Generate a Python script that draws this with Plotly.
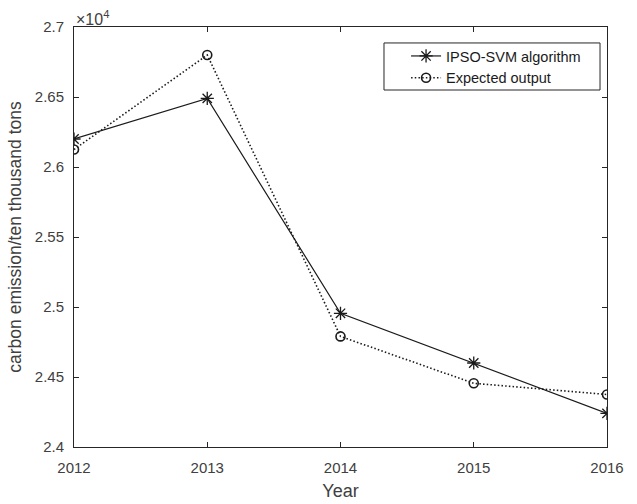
import plotly.graph_objects as go

years = [2012, 2013, 2014, 2015, 2016]
ipso_svm = [26200, 26490, 24955, 24600, 24240]
expected = [26125, 26800, 24790, 24455, 24375]
y_tick_vals = [24000, 24500, 25000, 25500, 26000, 26500, 27000]
y_tick_text = ["2.4", "2.45", "2.5", "2.55", "2.6", "2.65", "2.7"]
x_tick_text = ["2012", "2013", "2014", "2015", "2016"]

FONT = "Liberation Sans, Arial, sans-serif"
AX = "#262626"
TXT = "#404040"

fig = go.Figure()
fig.add_trace(go.Scatter(
    x=years, y=ipso_svm, mode="lines+markers", name="IPSO-SVM algorithm",
    line=dict(color="#1a1a1a", width=1.2),
    marker=dict(symbol="asterisk-open", size=11, color="#1a1a1a",
                line=dict(width=1.3, color="#1a1a1a")),
))
fig.add_trace(go.Scatter(
    x=years, y=expected, mode="lines+markers", name="Expected output",
    line=dict(color="#1a1a1a", width=1.6, dash="1.5px,2.2px"),
    marker=dict(symbol="circle-open", size=9, color="#1a1a1a",
                line=dict(width=1.6, color="#1a1a1a")),
))

fig.update_layout(
    width=637, height=504,
    margin=dict(l=74, r=30, t=27, b=57),
    paper_bgcolor="white", plot_bgcolor="white",
    font=dict(family=FONT, size=15, color=TXT),
    showlegend=True,
    legend=dict(
        x=0.623, y=0.969, xanchor="left", yanchor="top",
        bgcolor="rgba(0,0,0,0)", borderwidth=0,
        font=dict(family=FONT, size=14.5, color="#1a1a1a"),
        tracegroupgap=0, itemwidth=30,
    ),
    xaxis=dict(
        range=[2012, 2016], tickvals=years, ticktext=x_tick_text,
        showgrid=False, zeroline=False, automargin=False,
        showline=True, linecolor=AX, linewidth=1, mirror="ticks",
        ticks="inside", ticklen=5, tickcolor=AX, tickwidth=1,
        tickfont=dict(size=15, color=TXT), ticklabelstandoff=7,
        title=dict(text="Year", font=dict(size=18, color=TXT), standoff=9),
    ),
    yaxis=dict(
        range=[24000, 27000], tickvals=y_tick_vals, ticktext=y_tick_text,
        showgrid=False, zeroline=False, automargin=False,
        showline=True, linecolor=AX, linewidth=1, mirror="ticks",
        ticks="inside", ticklen=5, tickcolor=AX, tickwidth=1,
        tickfont=dict(size=15, color=TXT), ticklabelstandoff=6,
        title=dict(text="carbon emission/ten thousand tons",
                   font=dict(size=17.5, color=TXT), standoff=8),
    ),
)

# legend frame
fig.add_shape(type="rect", xref="paper", yref="paper",
              x0=0.5816, x1=0.9869, y0=0.85, y1=0.962,
              line=dict(color=AX, width=1), fillcolor="white", layer="below")

fig.add_annotation(
    text="\u00d710<sup>4</sup>", xref="paper", yref="paper",
    x=0.0, y=1.0, xanchor="left", yanchor="bottom", showarrow=False,
    font=dict(family=FONT, size=16, color=TXT), xshift=0, yshift=-3,
)

fig.write_html("out.html", config={"displayModeBar": False},
               post_script="document.body.style.margin='0';document.body.style.padding='0';")
